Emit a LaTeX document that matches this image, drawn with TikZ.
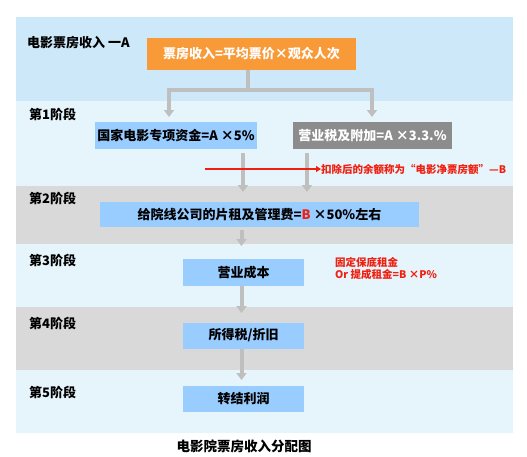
\documentclass[tikz,border=0pt]{standalone}
\usepackage{fontspec}
\setmainfont{Noto Sans CJK SC}
\usetikzlibrary{arrows.meta}
\definecolor{bandA}{HTML}{CCE8F9}
\definecolor{bandB}{HTML}{E6F4FC}
\definecolor{bandG}{HTML}{D9D9D9}
\definecolor{boxblue}{HTML}{99CCFF}
\definecolor{orangebox}{HTML}{F99A38}
\definecolor{graybox}{HTML}{8C8C8C}
\definecolor{conn}{HTML}{BFBFBF}
\definecolor{redtxt}{HTML}{F02010}
\begin{document}
\begin{tikzpicture}[x=1pt,y=-1pt,
  lab/.style={anchor=west,inner sep=0pt,font=\fontsize{13}{15}\selectfont\bfseries},
  bbox/.style={fill=boxblue,inner sep=0pt,font=\fontsize{13}{15}\selectfont\bfseries},
  connline/.style={draw=conn,line width=4pt},
  connarr/.style={draw=conn,line width=4pt,-{Triangle[width=10pt,length=7pt]}},
  redlab/.style={anchor=west,inner sep=0pt,text=redtxt,font=\fontsize{10.5}{12}\selectfont\bfseries}]
\useasboundingbox (0,0) rectangle (527,456);
\fill[white] (0,0) rectangle (527,456);
% bands
\fill[bandA] (16,17) rectangle (513,101);
\fill[bandB] (16,101) rectangle (513,186);
\fill[bandG] (16,186) rectangle (513,244);
\fill[bandB] (16,244) rectangle (513,307);
\fill[bandG] (16,307) rectangle (513,370);
\fill[bandB] (16,370) rectangle (513,433);
% labels
\node[lab] (l0) at (27,43) {电影票房收入 一A};
\node[lab] (l1) at (29,114) {第1阶段};
\node[lab] (l2) at (29,198) {第2阶段};
\node[lab] (l3) at (29,260) {第3阶段};
\node[lab] (l4) at (29,323) {第4阶段};
\node[lab] (l5) at (29,392) {第5阶段};
% boxes
\node[bbox,fill=orangebox,text=white,minimum width=209pt,minimum height=32pt] (orange) at (251.5,54) {票房收入=平均票价×观众人次};
\node[bbox,minimum width=162pt,minimum height=27pt] (left1) at (176,135.5) {国家电影专项资金=A ×5\%};
\node[bbox,fill=graybox,text=white,minimum width=159pt,minimum height=27pt] (right1) at (372.5,135.5) {营业税及附加=A ×3.3.\%};
\node[bbox,minimum width=319pt,minimum height=25pt] (b2) at (259.5,214.5) {给院线公司的片租及管理费=\textcolor{redtxt}{B} ×50\%左右};
\node[bbox,minimum width=121pt,minimum height=27pt] (b3) at (243.5,272.5) {营业成本};
\node[bbox,minimum width=121pt,minimum height=26pt] (b4) at (243.5,335.5) {所得税/折旧};
\node[bbox,minimum width=121pt,minimum height=26pt] (b5) at (243.5,399) {转结利润};
% top connector
\coordinate (jl) at (169,90);
\coordinate (jr) at (372,90);
\draw[connline] (orange.south -| 248,0) -- (248,90);
\draw[connarr,{Triangle[width=10pt,length=7pt]}-{Triangle[width=10pt,length=7pt]},line join=miter]
  (169,117) -- (jl) -- (jr) -- (372,117);
% stage1 -> stage2
\draw[connarr] (243,153) -- (243,192);
\draw[connarr] (307,153) -- (307,192);
% red arrow
\coordinate (rs) at (205,169);
\node[redlab] (rnote) at (321,169) {扣除后的余额称为“电影净票房额”—B};
\draw[redtxt,line width=1.6pt,-{Triangle[width=6pt,length=5pt]}] (rs) -- (rnote.west);
% lower arrows
\draw[connarr] (241.5,230) -- (241.5,246);
\draw[connarr] (241.5,286) -- (241.5,313);
\draw[connarr] (241.5,349) -- (241.5,380);
% stage3 note
\node[redlab] (n1) at (335,262) {固定保底租金};
\node[redlab] (n2) at (335,274.5) {Or 提成租金=B ×P\%};
% caption
\node[inner sep=0pt,font=\fontsize{13.5}{15}\selectfont\bfseries] (cap) at (244,446) {电影院票房收入分配图};
\end{tikzpicture}
\end{document}
